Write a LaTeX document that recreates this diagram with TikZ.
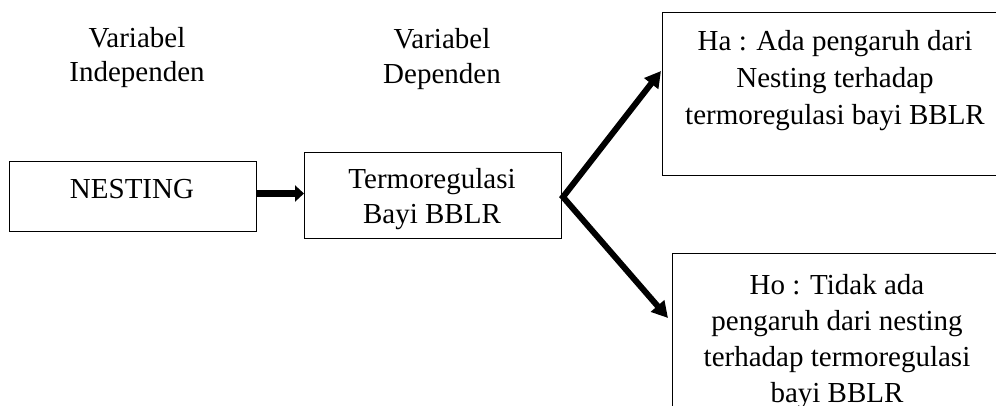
\documentclass[tikz,border=0pt]{standalone}
\usepackage{fontspec}
\setmainfont{Liberation Serif}
\usetikzlibrary{arrows.meta}
\begin{document}
\begin{tikzpicture}[x=1pt,y=-1pt,
  box/.style={draw=black,line width=1pt,rectangle,anchor=north west,inner sep=0pt},
  txt/.style={font=\fontsize{29}{36}\selectfont,align=center,anchor=north,inner sep=0pt},
  forkarrow/.style={line width=6pt,line join=miter,{Triangle[length=16pt,width=17pt]}-{Triangle[length=16pt,width=17pt]}}]
\useasboundingbox (0,0) rectangle (996,405);
\clip (0,0) rectangle (996,405);
\fill[white] (0,0) rectangle (996,405);
% labels
\node[txt,font=\fontsize{29}{34}\selectfont] (vi) at (137,27) {Variabel\\Independen};
\node[txt,font=\fontsize{29}{35}\selectfont] (vd) at (442,28) {Variabel\\Dependen};
% boxes
\node[box,minimum width=247pt,minimum height=70pt] (nest) at (9,161) {};
\node[txt] (nestt) at (132,179) {NESTING};
\node[box,minimum width=257pt,minimum height=86pt] (mid) at (304,152) {};
\node[txt,font=\fontsize{29}{35}\selectfont] (midt) at (432,168) {Termoregulasi\\Bayi BBLR};
\node[box,minimum width=346pt,minimum height=163pt] (ha) at (662,12) {};
\node[txt,font=\fontsize{29}{37}\selectfont] (hat) at (835,30) {Ha : Ada pengaruh dari\\Nesting terhadap\\termoregulasi bayi BBLR};
\node[box,minimum width=330pt,minimum height=170pt] (ho) at (672,253) {};
\node[txt,font=\fontsize{29}{36}\selectfont] (hot) at (837,274) {Ho : Tidak ada\\pengaruh dari nesting\\terhadap termoregulasi\\bayi BBLR};
% connectors
\coordinate (apex) at (563,197);
\coordinate (tipA) at (661,71);
\coordinate (tipB) at (668,318);
\draw[line width=7pt,-{Triangle[length=9pt,width=16pt]}] (nest.east |- 0,193.5) -- (mid.west |- 0,193.5);
\draw[forkarrow] (tipA) -- (apex) -- (tipB);
\end{tikzpicture}
\end{document}
